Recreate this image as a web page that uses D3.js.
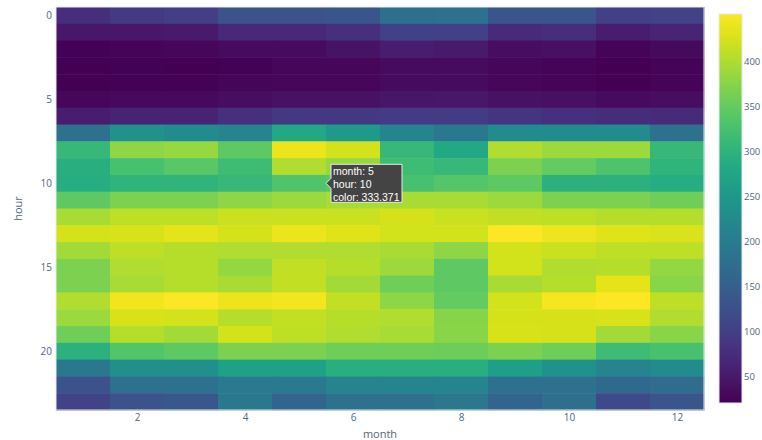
<!DOCTYPE html>
<html>
<head>
<meta charset="utf-8">
<script src="https://cdn.jsdelivr.net/npm/d3@7"></script>
<style>
  body { margin: 0; background: #fff; }
  svg { display: block; font-family: "Open Sans", "Liberation Sans", sans-serif; }
</style>
</head>
<body>
<svg id="chart" width="762" height="440"></svg>
<script>

/// Data

var months = [1, 2, 3, 4, 5, 6, 7, 8, 9, 10, 11, 12];
var hours = d3.range(0, 24);

// one row per hour, one value per month
var values = [
  [76.7, 94.3, 99.2, 129.5, 129.5, 137.3, 176.4, 181.3, 137.3, 135.4, 103.1, 107.0],
  [47.4, 47.4, 51.3, 68.9, 68.9, 81.6, 103.1, 103.1, 72.8, 76.7, 55.2, 64.0],
  [23.0, 25.9, 27.8, 33.7, 33.7, 42.5, 55.2, 51.3, 35.7, 38.6, 25.9, 31.8],
  [21.0, 23.0, 22.0, 23.9, 27.8, 27.8, 33.7, 33.7, 27.8, 25.9, 22.0, 24.9],
  [21.0, 23.0, 23.0, 26.9, 27.8, 27.8, 33.7, 33.7, 28.8, 24.9, 22.0, 24.9],
  [27.8, 31.8, 32.7, 35.7, 40.5, 40.5, 45.4, 47.4, 40.5, 38.6, 33.7, 35.7],
  [55.2, 62.1, 62.1, 81.6, 91.4, 91.4, 96.3, 96.3, 88.4, 81.6, 74.8, 72.8],
  [181.3, 237.0, 228.2, 215.5, 280.0, 254.6, 216.5, 194.0, 228.2, 228.2, 228.2, 181.3],
  [310.3, 379.7, 384.6, 345.5, 440.3, 423.7, 310.3, 280.0, 401.2, 387.5, 387.5, 310.3],
  [293.7, 327.9, 340.6, 319.1, 401.2, 385.0, 319.1, 310.3, 367.0, 349.4, 331.8, 301.5],
  [288.8, 301.5, 301.5, 310.3, 333.371, 340.6, 327.9, 336.7, 345.5, 297.6, 297.6, 288.8],
  [345.5, 367.0, 367.0, 379.7, 388.5, 396.3, 396.3, 396.3, 388.5, 367.0, 367.0, 358.2],
  [396.3, 410.0, 410.0, 418.8, 418.8, 418.8, 424.7, 418.8, 413.9, 410.0, 405.1, 405.1],
  [424.7, 426.6, 435.4, 424.7, 440.3, 432.5, 422.7, 422.7, 453.0, 442.3, 432.5, 428.6],
  [392.4, 410.0, 405.1, 401.2, 402.2, 402.2, 397.3, 379.7, 422.7, 418.8, 410.0, 410.0],
  [367.0, 402.2, 405.1, 383.6, 413.9, 405.1, 388.5, 345.5, 422.7, 401.2, 405.1, 383.6],
  [367.0, 397.3, 405.1, 397.3, 413.9, 392.4, 358.2, 345.5, 396.3, 405.1, 435.4, 375.8],
  [402.2, 444.2, 451.1, 440.3, 446.2, 413.9, 379.7, 349.4, 422.7, 447.2, 453.0, 410.0],
  [388.5, 426.6, 422.7, 405.1, 413.9, 405.1, 401.2, 374.8, 424.7, 424.7, 426.6, 401.2],
  [358.2, 405.1, 393.4, 422.7, 410.0, 401.2, 397.3, 375.8, 426.6, 424.7, 392.4, 375.8],
  [297.6, 335.7, 345.5, 367.0, 367.0, 358.2, 358.2, 356.2, 367.0, 358.2, 319.1, 327.9],
  [194.0, 236.0, 236.0, 267.3, 267.3, 293.7, 293.7, 293.7, 262.4, 240.9, 215.5, 228.2],
  [129.5, 181.3, 181.3, 197.9, 197.9, 215.5, 218.4, 218.4, 181.3, 181.3, 167.6, 172.5],
  [107.0, 129.5, 138.3, 194.0, 159.8, 181.3, 181.3, 192.0, 159.8, 176.4, 115.8, 133.4]
];

var monthTicks = [2, 4, 6, 8, 10, 12];
var hourTicks = [0, 5, 10, 15, 20];
var colorTicks = [50, 100, 150, 200, 250, 300, 350, 400];

// the hovered cell shown in the picture
var hoverMonth = 5;
var hoverHour = 10;


/// Layout

var svg = d3.select("#chart");
var plot = {left: 56, right: 704, top: 7, bottom: 410};
var bar = {left: 719, right: 742, top: 14, bottom: 403};
var tickColor = "#506784";

var cells = [];
hours.forEach(function (h, i) {
  months.forEach(function (m, j) {
    cells.push({month: m, hour: h, value: values[i][j]});
  });
});

var extent = d3.extent(cells, function (d) { return d.value; });

var x = d3.scaleLinear().domain([0.5, 12.5]).range([plot.left, plot.right]);
var y = d3.scaleLinear().domain([-0.5, 23.5]).range([plot.top, plot.bottom]);
var color = d3.scaleSequential(d3.interpolateViridis).domain(extent);


/// Heatmap

svg.append("g")
  .selectAll("rect")
  .data(cells)
  .enter()
  .append("rect")
  .attr("x", function (d) { return x(d.month - 0.5); })
  .attr("y", function (d) { return y(d.hour - 0.5); })
  .attr("width", x(1.5) - x(0.5) + 0.5)
  .attr("height", y(0.5) - y(-0.5) + 0.5)
  .style("fill", function (d) { return color(d.value); });

// thin frame round the plot
svg.append("rect")
  .attr("x", plot.left)
  .attr("y", plot.top)
  .attr("width", plot.right - plot.left)
  .attr("height", plot.bottom - plot.top)
  .style("fill", "none")
  .style("stroke", "#e3e9f1")
  .style("stroke-width", 1);


/// Axes

var xAxis = svg.append("g")
  .attr("transform", "translate(0," + plot.bottom + ")")
  .call(d3.axisBottom(x).tickValues(monthTicks).tickSize(0).tickPadding(4));

var yAxis = svg.append("g")
  .attr("transform", "translate(" + (plot.left - 1) + ",0)")
  .call(d3.axisLeft(y).tickValues(hourTicks).tickSize(0).tickPadding(3));

[xAxis, yAxis].forEach(function (a) {
  a.select(".domain").remove();
  a.selectAll("text")
    .style("font-family", "'Open Sans', sans-serif")
    .style("font-size", "10px")
    .style("fill", tickColor);
});

svg.append("text")
  .attr("x", (plot.left + plot.right) / 2)
  .attr("y", 438)
  .attr("text-anchor", "middle")
  .style("font-size", "11px")
  .style("fill", tickColor)
  .text("month");

svg.append("text")
  .attr("transform", "translate(22," + (plot.top + plot.bottom) / 2 + ") rotate(-90)")
  .attr("text-anchor", "middle")
  .style("font-size", "11px")
  .style("fill", tickColor)
  .text("hour");


/// Colorbar

var grad = svg.append("defs")
  .append("linearGradient")
  .attr("id", "viridis")
  .attr("x1", "0").attr("y1", "1")
  .attr("x2", "0").attr("y2", "0");

d3.range(0, 1.0001, 0.05).forEach(function (t) {
  grad.append("stop")
    .attr("offset", t)
    .attr("stop-color", d3.interpolateViridis(t));
});

svg.append("rect")
  .attr("x", bar.left)
  .attr("y", bar.top)
  .attr("width", bar.right - bar.left)
  .attr("height", bar.bottom - bar.top)
  .style("fill", "url(#viridis)")
  .style("stroke", "#e4e8f0")
  .style("stroke-width", 1);

var barScale = d3.scaleLinear().domain(extent).range([bar.bottom, bar.top]);

var barAxis = svg.append("g")
  .attr("transform", "translate(" + bar.right + ",0)")
  .call(d3.axisRight(barScale).tickValues(colorTicks).tickSize(0).tickPadding(2));

barAxis.select(".domain").remove();
barAxis.selectAll("text")
  .style("font-family", "'Open Sans', sans-serif")
  .style("font-size", "9.5px")
  .style("fill", tickColor);


/// Hover label

var hoverValue = values[hoverHour][hoverMonth - 1];
var tipX = x(hoverMonth + 0.5);
var tipY = y(hoverHour);
var lines = ["month: " + hoverMonth, "hour: " + hoverHour, "color: " + hoverValue];

var tip = svg.append("g").attr("transform", "translate(" + tipX + "," + tipY + ")");

tip.append("path")
  .attr("d", "M0,0 L5,-5 L5,-19 L76,-19 L76,19 L5,19 L5,5 Z")
  .style("fill", "#444444")
  .style("stroke", "#e8e8e8")
  .style("stroke-width", 1);

tip.selectAll("text")
  .data(lines)
  .enter()
  .append("text")
  .attr("x", 7)
  .attr("y", function (d, i) { return -12 + i * 12.7 + 3.8; })
  .style("font-family", "'Liberation Sans', Arial, sans-serif")
  .style("font-size", "10.5px")
  .style("fill", "#ffffff")
  .text(function (d) { return d; });

</script>
</body>
</html>
